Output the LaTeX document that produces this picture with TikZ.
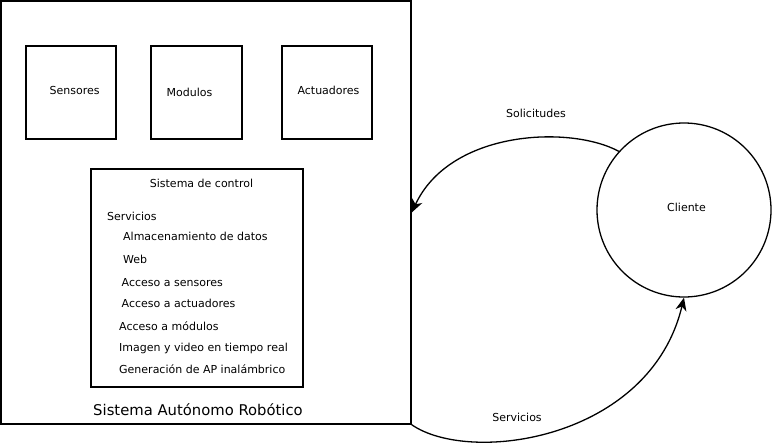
\documentclass[tikz,border=0pt]{standalone}
\usepackage{fontspec}
\setmainfont{DejaVu Sans}
\usetikzlibrary{arrows.meta}

\begin{document}
\begin{tikzpicture}[x=1pt, y=-1pt,
	caja/.style={draw, line width=1.5pt, inner sep=0pt},
	texto/.style={inner sep=0pt, font=\fontsize{11}{13}\selectfont},
	item/.style={texto, anchor=base west},
	flecha/.style={line width=1.3pt, -{Stealth[length=13pt, width=11pt, inset=4pt]}}]
	\useasboundingbox (0,0) rectangle (775,444);

	% sistema autonomo
	\node[caja, minimum width=410pt, minimum height=423pt] (sar) at (206,212.5){};
	\node[inner sep=0pt, font=\fontsize{14.8}{17}\selectfont] (titulo) at (198,410){Sistema Autónomo Robótico};

	\node[caja, minimum width=90pt, minimum height=93pt, label={[texto, xshift=3.7pt, yshift=2pt]center:Sensores}] (sensores) at (71,92.5){};
	\node[caja, minimum width=91pt, minimum height=93pt, label={[texto, xshift=-7pt]center:Modulos}] (modulos) at (196.5,92.5){};
	\node[caja, minimum width=90pt, minimum height=93pt, label={[texto, xshift=1.5pt, yshift=2pt]center:Actuadores}] (actuadores) at (327,92.5){};

	% sistema de control
	\node[caja, minimum width=212pt, minimum height=218pt] (control) at (197,278){};
	\node[texto, anchor=base] (ctitulo) at (201.5,187.5){Sistema de control};
	\node[item] (servicios) at (107,220){Servicios};
	\node[item] (datos) at (123,240){Almacenamiento de datos};
	\node[item] (web) at (123,263.5){Web};
	\node[item] (asens) at (121.5,286.5){Acceso a sensores};
	\node[item] (aact) at (121.5,307.5){Acceso a actuadores};
	\node[item] (amod) at (119,330.5){Acceso a módulos};
	\node[item] (video) at (119,351.5){Imagen y video en tiempo real};
	\node[item] (ap) at (119,373){Generación de AP inalámbrico};

	% cliente
	\node[draw, circle, line width=1.3pt, minimum size=174pt, label={[texto, xshift=2.5pt, yshift=3pt]center:Cliente}] (cliente) at (684,210){};

	\draw[flecha] (cliente.138) .. controls (570,125) and (450,130) .. (sar.east);
	\draw[flecha] (sar.south east) .. controls (470,465) and (650,440) .. (cliente.south);

	\node[texto] (solicitudes) at (536,113){Solicitudes};
	\node[texto] (respuestas) at (517,417){Servicios};
\end{tikzpicture}
\end{document}
